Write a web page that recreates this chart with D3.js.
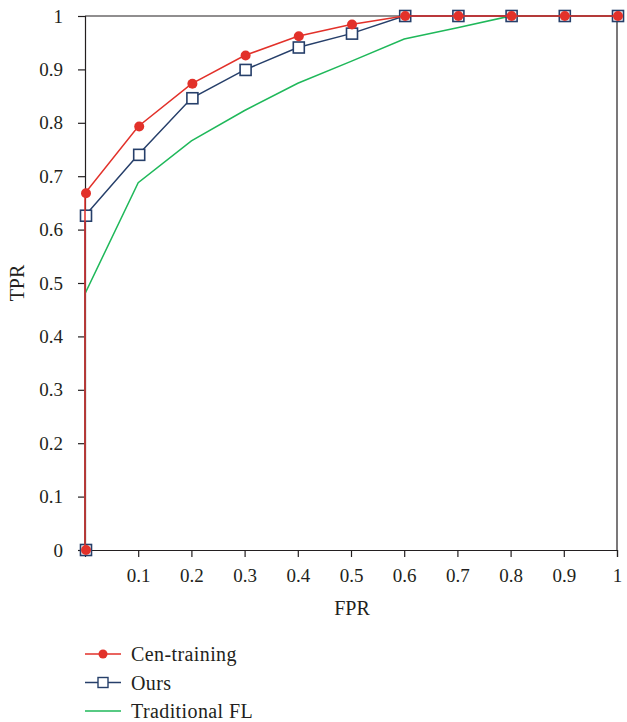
<!DOCTYPE html>
<html>
<head>
<meta charset="utf-8">
<script src="https://cdn.jsdelivr.net/npm/d3@7/dist/d3.min.js"></script>
<style>
  body { margin: 0; background: #fff; }
  text { font-family: "Liberation Serif", "DejaVu Serif", serif; fill: #231f20; }
</style>
</head>
<body>
<div id="chart"></div>
<script>
// FPR positions and TPR values
var fpr = [0, 0, 0.1, 0.2, 0.3, 0.4, 0.5, 0.6, 0.7, 0.8, 0.9, 1];
var cenTraining = [0, 0.668, 0.793, 0.873, 0.926, 0.962, 0.984, 1, 1, 1, 1, 1];
var ours = [0, 0.626, 0.740, 0.846, 0.899, 0.941, 0.967, 1, 1, 1, 1, 1];
var traditionalFL = [0, 0.48, 0.688, 0.766, 0.823, 0.874, 0.915, 0.957, 0.978, 1, 1, 1];
var xTicks = [0.1, 0.2, 0.3, 0.4, 0.5, 0.6, 0.7, 0.8, 0.9, 1];
var yTicks = [0, 0.1, 0.2, 0.3, 0.4, 0.5, 0.6, 0.7, 0.8, 0.9, 1];
var seriesNames = ["Cen-training", "Ours", "Traditional FL"];

var margin = {top: 16, right: 10, bottom: 172, left: 85},
    width = 617 - margin.left,
    height = 550 - margin.top;

var red = "#e2312a", navy = "#263f6a", green = "#1fb85a";

var x = d3.scaleLinear().domain([0, 1]).range([0, width]);
var y = d3.scaleLinear().domain([0, 1]).range([height, 0]);

var svg = d3.select("#chart").append("svg")
    .attr("width", 627)
    .attr("height", 722);

var g = svg.append("g")
    .attr("transform", "translate(" + margin.left + "," + margin.top + ")");

// frame top and right
g.append("line").attr("x1", 0).attr("x2", width).attr("y1", 0).attr("y2", 0)
    .attr("stroke", "#231f20").attr("stroke-width", 1.2);
g.append("line").attr("x1", width).attr("x2", width).attr("y1", 0).attr("y2", height)
    .attr("stroke", "#231f20").attr("stroke-width", 1.2);

// x axis
var xAxis = g.append("g")
    .attr("transform", "translate(0," + height + ")")
    .call(d3.axisBottom(x).tickValues(xTicks).tickSize(7).tickPadding(12)
        .tickFormat(function(d) { return d === 1 ? "1" : d3.format(".1f")(d); }));
xAxis.select(".domain").attr("stroke", "#231f20").attr("stroke-width", 1.2);
xAxis.selectAll(".tick line").attr("stroke", "#231f20").attr("stroke-width", 1.2);
xAxis.selectAll("text").style("font-size", "19px").attr("fill", "#231f20");

// y axis
var yAxis = g.append("g")
    .call(d3.axisLeft(y).tickValues(yTicks).tickSize(7).tickPadding(15)
        .tickFormat(function(d) { return (d === 0 || d === 1) ? String(d) : d3.format(".1f")(d); }));
yAxis.select(".domain").attr("stroke", "#231f20").attr("stroke-width", 1.2);
yAxis.selectAll(".tick line").attr("stroke", "#231f20").attr("stroke-width", 1.2);
yAxis.selectAll("text").style("font-size", "19px").attr("fill", "#231f20");

// axis titles
svg.append("text")
    .attr("transform", "translate(24," + (margin.top + height / 2) + ") rotate(-90)")
    .attr("text-anchor", "middle")
    .style("font-size", "20px")
    .text("TPR");
svg.append("text")
    .attr("x", margin.left + width / 2 + 1)
    .attr("y", 615)
    .attr("text-anchor", "middle")
    .style("font-size", "20px")
    .text("FPR");

function pts(vals) {
    return vals.map(function(v, i) { return {x: fpr[i], y: v}; });
}
var line = d3.line()
    .x(function(d) { return x(d.x); })
    .y(function(d) { return y(d.y); });

// Traditional FL
g.append("path").datum(pts(traditionalFL))
    .attr("fill", "none").attr("stroke", green).attr("stroke-width", 1.5)
    .attr("d", line);

// Ours
g.append("path").datum(pts(ours))
    .attr("fill", "none").attr("stroke", navy).attr("stroke-width", 1.5)
    .attr("d", line);
g.selectAll(".sq").data(pts(ours)).enter().append("rect")
    .attr("x", function(d) { return x(d.x) + 1 - 5.5; })
    .attr("y", function(d) { return y(d.y) - 5.5; })
    .attr("width", 11).attr("height", 11)
    .attr("fill", "#fff").attr("stroke", navy).attr("stroke-width", 1.6);

// Cen-training
g.append("path").datum(pts(cenTraining))
    .attr("fill", "none").attr("stroke", red).attr("stroke-width", 1.5)
    .attr("d", line);
g.selectAll(".dot").data(pts(cenTraining)).enter().append("circle")
    .attr("cx", function(d) { return x(d.x) + 1; })
    .attr("cy", function(d) { return y(d.y); })
    .attr("r", 5).attr("fill", red);

// legend
var legend = svg.append("g").attr("transform", "translate(85,654)");
var colors = [red, navy, green];
seriesNames.forEach(function(name, i) {
    var row = legend.append("g").attr("transform", "translate(0," + (i * 28.5) + ")");
    row.append("line").attr("x1", 0).attr("x2", 36).attr("y1", 0).attr("y2", 0)
        .attr("stroke", colors[i]).attr("stroke-width", 1.5);
    if (i === 0) {
        row.append("circle").attr("cx", 18).attr("cy", 0).attr("r", 4.5).attr("fill", red);
    } else if (i === 1) {
        row.append("rect").attr("x", 13).attr("y", -5).attr("width", 10).attr("height", 10)
            .attr("fill", "#fff").attr("stroke", navy).attr("stroke-width", 1.4);
    }
    row.append("text").attr("x", 46).attr("y", 7)
        .style("font-size", "20px")
        .style("letter-spacing", "0.4px")
        .text(name);
});
</script>
</body>
</html>
